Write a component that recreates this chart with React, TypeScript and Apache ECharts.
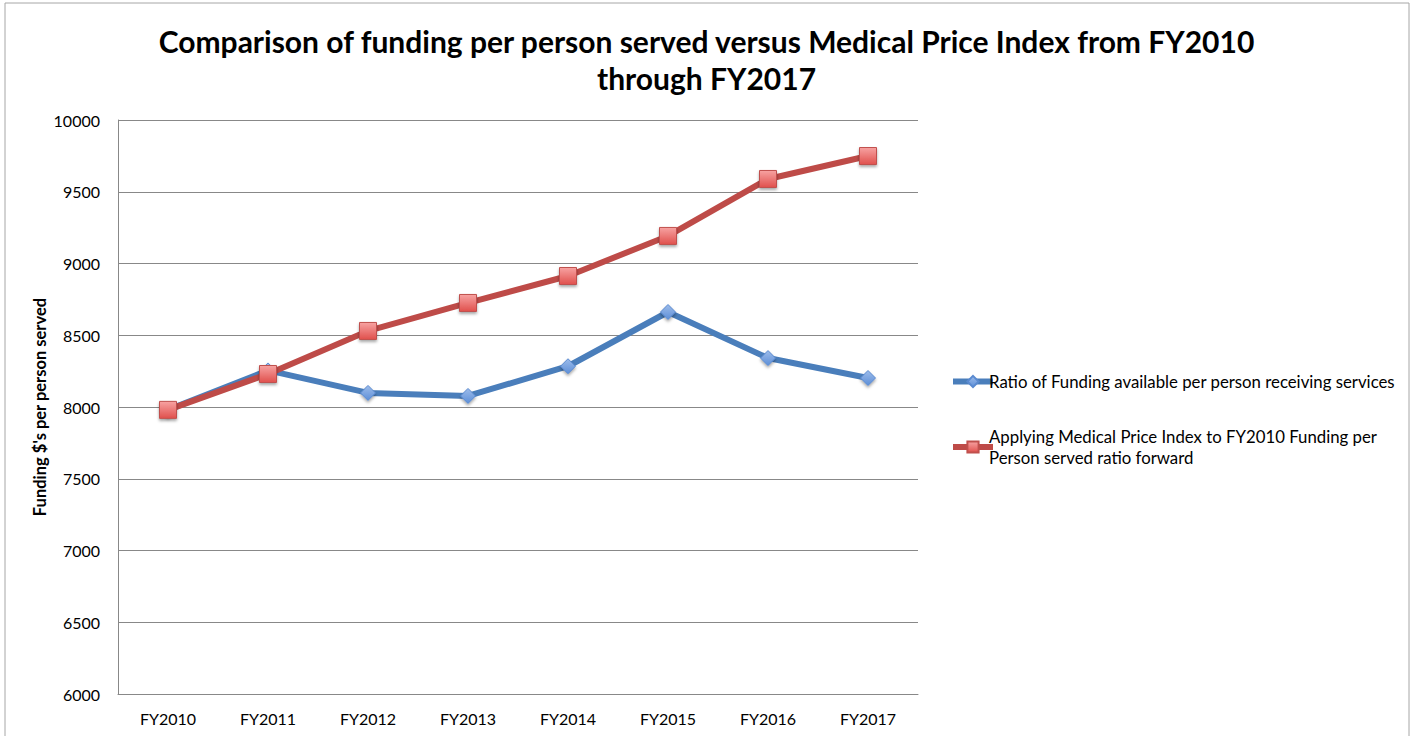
import React, { useEffect, useRef } from "react";
import * as echarts from "echarts";

const TITLE = "Comparison of funding per person served versus Medical Price Index from FY2010\nthrough FY2017";
const Y_AXIS_NAME = "Funding $'s per person served";
const categories = ["FY2010", "FY2011", "FY2012", "FY2013", "FY2014", "FY2015", "FY2016", "FY2017"];
const SERIES1_NAME = "Ratio of Funding available per person receiving services";
const SERIES2_NAME = "Applying Medical Price Index to FY2010 Funding per Person served ratio forward";
const ratioValues = [7980, 8255, 8098, 8077, 8284, 8662, 8341, 8202];
const mpiValues = [7980, 8230, 8530, 8725, 8913, 9192, 9589, 9749];
const Y_MIN = 6000;
const Y_MAX = 10000;
const Y_INTERVAL = 500;

const FONT = "Lato, 'Open Sans', sans-serif";

export default function App() {
  const ref = useRef<HTMLDivElement>(null);
  useEffect(() => {
    if (!ref.current) return;
    const chart = echarts.init(ref.current, undefined, { renderer: "svg" });
    chart.setOption({
      animation: false,
      backgroundColor: "#ffffff",
      textStyle: { fontFamily: FONT },
      title: {
        text: TITLE,
        left: "center",
        top: 17,
        textStyle: { fontFamily: FONT, fontSize: 30, fontWeight: "bold", color: "#000", lineHeight: 37 },
      },
      graphic: [
        {
          type: "rect",
          shape: { x: 5, y: 3, width: 1404, height: 800 },
          style: { fill: "none", stroke: "#a6a6a6", lineWidth: 1 },
          silent: true,
          z: -1,
        },
      ],
      legend: {
        orient: "vertical",
        left: 945,
        top: 366,
        itemGap: 34,
        itemWidth: 40,
        itemHeight: 14,
        data: [SERIES1_NAME, SERIES2_NAME],
        lineStyle: { width: 6 },
        formatter: (name: string) =>
          name === SERIES2_NAME ? name.replace(" Funding per ", " Funding per\n") : name,
        textStyle: { fontFamily: FONT, fontSize: 16.8, color: "#000", lineHeight: 21, padding: [0, 0, 0, -9] },
      },
      grid: { left: 118, right: 495, top: 120, bottom: 42, containLabel: false },
      xAxis: {
        type: "category",
        data: categories,
        boundaryGap: true,
        axisLine: { show: true, lineStyle: { color: "#888888", width: 1 } },
        axisTick: { show: false },
        axisLabel: { fontFamily: FONT, fontSize: 16, color: "#000", margin: 16 },
      },
      yAxis: {
        type: "value",
        min: Y_MIN,
        max: Y_MAX,
        interval: Y_INTERVAL,
        name: Y_AXIS_NAME,
        nameLocation: "middle",
        nameGap: 70,
        nameMoveOverlap: false,
        nameRotate: 90,
        nameTextStyle: { fontFamily: FONT, fontSize: 16.5, fontWeight: "bold", color: "#000" },
        axisLine: { show: true, lineStyle: { color: "#888888", width: 1 } },
        axisTick: { show: false },
        axisLabel: {
          fontFamily: FONT,
          fontSize: 16,
          color: "#000",
          margin: 18,
          formatter: (v: number) => String(v),
        },
        splitLine: { show: true, lineStyle: { color: "#888888", width: 1 } },
      },
      series: [
        {
          name: SERIES1_NAME,
          type: "line",
          data: ratioValues,
          symbol: "diamond",
          symbolSize: 15,
          z: 2,
          lineStyle: { color: "#4a7ebb", width: 6 },
          itemStyle: {
            color: new echarts.graphic.LinearGradient(0, 0, 0, 1, [
              { offset: 0, color: "#9dbcea" },
              { offset: 1, color: "#5d8fd8" },
            ]),
            borderColor: "#5a8ad0",
            borderWidth: 1,
            shadowColor: "rgba(0,0,0,0.35)",
            shadowBlur: 3,
            shadowOffsetY: 2,
          },
        },
        {
          name: SERIES2_NAME,
          type: "line",
          data: mpiValues,
          symbol: "rect",
          symbolSize: 17,
          z: 3,
          lineStyle: { color: "#be4b48", width: 6 },
          itemStyle: {
            color: new echarts.graphic.LinearGradient(0, 0, 0, 1, [
              { offset: 0, color: "#f7a3a2" },
              { offset: 1, color: "#e0504d" },
            ]),
            borderColor: "#c0504d",
            borderWidth: 1,
            shadowColor: "rgba(0,0,0,0.35)",
            shadowBlur: 3,
            shadowOffsetY: 2,
          },
        },
      ],
    });
    return () => chart.dispose();
  }, []);
  return (
    <div
      ref={ref}
      style={{ position: "absolute", left: 0, top: 0, width: 1413, height: 736 }}
    />
  );
}
